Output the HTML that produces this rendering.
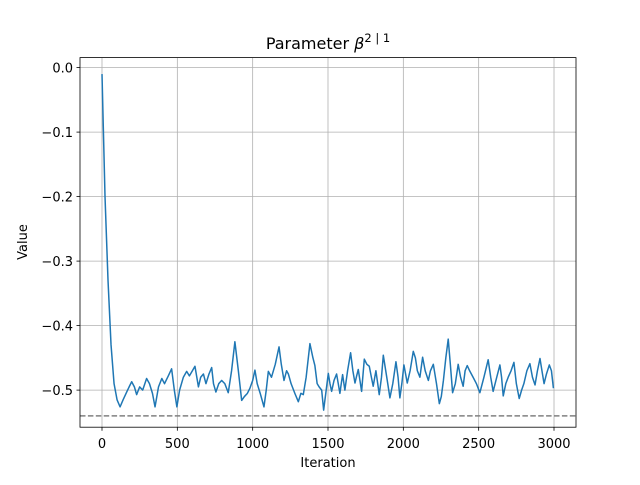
<!DOCTYPE html>
<html><head><meta charset="utf-8"><style>
body{margin:0;background:#fff;}
svg text{font-family:"DejaVu Sans","Liberation Sans",sans-serif;fill:#000;}
</style></head><body>
<svg width="640" height="480" id="chart">
<rect width="640" height="480" fill="#fff"/>
<g id="grid"></g>
<g id="series"></g>
<g id="axes"></g>
<text x="328" y="49" font-size="16" text-anchor="middle">Parameter <tspan font-style="italic">β</tspan><tspan font-size="11.5" dy="-7">2 | 1</tspan></text>
<text x="328" y="467" font-size="13" text-anchor="middle">Iteration</text>
<text x="27" y="242" font-size="13" text-anchor="middle" transform="rotate(-90 27 242)">Value</text>
</svg>
<script>
const iterations=[0,20,40,60,80,100,120,140,160,180,197,215,230,250,270,296,315,335,352,375,397,415,440,462,480,497,515,540,562,580,600,617,640,655,673,690,710,728,740,756,775,794,815,838,860,882,905,927,945,965,982,1000,1015,1030,1050,1075,1090,1104,1125,1150,1175,1190,1208,1225,1237,1255,1280,1303,1320,1336,1355,1380,1400,1413,1428,1441,1458,1471,1488,1502,1513,1524,1540,1557,1568,1579,1588,1597,1612,1630,1650,1665,1679,1690,1701,1712,1723,1741,1758,1774,1788,1800,1818,1830,1840,1855,1867,1890,1911,1930,1951,1965,1977,1990,2004,2015,2026,2045,2066,2080,2093,2110,2128,2145,2166,2180,2199,2220,2239,2252,2266,2282,2298,2312,2327,2345,2364,2380,2397,2410,2424,2440,2463,2485,2508,2535,2563,2580,2596,2620,2641,2652,2663,2680,2696,2715,2734,2750,2769,2785,2800,2820,2840,2857,2874,2890,2907,2920,2934,2950,2969,2983,2996];
const values=[-0.01,-0.2,-0.33,-0.43,-0.49,-0.515,-0.526,-0.515,-0.505,-0.495,-0.487,-0.495,-0.507,-0.495,-0.5,-0.482,-0.49,-0.505,-0.526,-0.495,-0.482,-0.49,-0.478,-0.467,-0.5,-0.526,-0.5,-0.48,-0.471,-0.478,-0.47,-0.463,-0.495,-0.48,-0.475,-0.49,-0.475,-0.465,-0.49,-0.503,-0.49,-0.485,-0.49,-0.504,-0.47,-0.425,-0.47,-0.516,-0.51,-0.505,-0.497,-0.485,-0.469,-0.49,-0.505,-0.526,-0.5,-0.471,-0.48,-0.46,-0.433,-0.46,-0.485,-0.47,-0.475,-0.49,-0.505,-0.518,-0.505,-0.507,-0.48,-0.428,-0.45,-0.462,-0.49,-0.495,-0.5,-0.531,-0.5,-0.474,-0.49,-0.502,-0.485,-0.475,-0.49,-0.505,-0.49,-0.476,-0.5,-0.47,-0.442,-0.47,-0.489,-0.478,-0.468,-0.485,-0.502,-0.452,-0.46,-0.463,-0.48,-0.494,-0.47,-0.49,-0.507,-0.48,-0.446,-0.48,-0.512,-0.49,-0.456,-0.48,-0.512,-0.49,-0.461,-0.475,-0.489,-0.47,-0.44,-0.45,-0.47,-0.48,-0.449,-0.47,-0.485,-0.47,-0.46,-0.49,-0.521,-0.51,-0.485,-0.45,-0.421,-0.46,-0.504,-0.49,-0.46,-0.48,-0.494,-0.47,-0.462,-0.47,-0.48,-0.49,-0.504,-0.48,-0.453,-0.48,-0.502,-0.48,-0.461,-0.48,-0.509,-0.49,-0.48,-0.47,-0.457,-0.49,-0.513,-0.5,-0.49,-0.47,-0.459,-0.48,-0.492,-0.47,-0.451,-0.47,-0.49,-0.475,-0.461,-0.47,-0.497];
const xTicks=[0,500,1000,1500,2000,2500,3000];
const yTicks=[0,-0.1,-0.2,-0.3,-0.4,-0.5];
const refValue=-0.54;
const L=80,T=57.6,W=496,H=369.6,xmin=-146,xmax=3146,ymin=-0.5575,ymax=0.0155;
const NS='http://www.w3.org/2000/svg';
const sx=v=>L+(v-xmin)/(xmax-xmin)*W, sy=v=>T+(ymax-v)/(ymax-ymin)*H;
function mk(tag,attrs,parent){const e=document.createElementNS(NS,tag);for(const k in attrs)e.setAttribute(k,attrs[k]);parent.appendChild(e);return e;}
const grid=document.getElementById('grid'),axes=document.getElementById('axes'),series=document.getElementById('series');
xTicks.forEach(t=>{const x=sx(t);
 const g=mk('line',{x1:x,x2:x,y1:T,y2:T+H,stroke:'#b0b0b0','stroke-width':0.8},grid);
 
 const tk=mk('line',{x1:x,x2:x,y1:T+H,y2:T+H+3.5,stroke:'#000','stroke-width':0.8},axes);
 
 const lb=mk('text',{x:x,y:T+H+21,'font-size':13,'text-anchor':'middle'},axes);lb.textContent=String(t);
 });
yTicks.forEach(t=>{const y=sy(t);
 const g=mk('line',{x1:L,x2:L+W,y1:y,y2:y,stroke:'#b0b0b0','stroke-width':0.8},grid);
 
 const tk=mk('line',{x1:L-3.5,x2:L,y1:y,y2:y,stroke:'#000','stroke-width':0.8},axes);
 
 const lb=mk('text',{x:L-7,y:y+5,'font-size':13,'text-anchor':'end'},axes);lb.textContent=(t===0?'0.0':'\u2212'+Math.abs(t).toFixed(1));
 });
const ref=mk('line',{x1:L,x2:L+W,y1:sy(refValue),y2:sy(refValue),stroke:'#808080','stroke-width':1.5,'stroke-dasharray':'5.5,2.4'},series);

const pts=iterations.map((it,i)=>sx(it).toFixed(2)+','+sy(values[i]).toFixed(2)).join(' ');
const pl=mk('polyline',{points:pts,fill:'none',stroke:'#1f77b4','stroke-width':1.5,'stroke-linejoin':'round'},series);

const fr=mk('rect',{x:L,y:T,width:W,height:H,fill:'none',stroke:'#000','stroke-width':0.8},axes);

</script>
</body></html>
